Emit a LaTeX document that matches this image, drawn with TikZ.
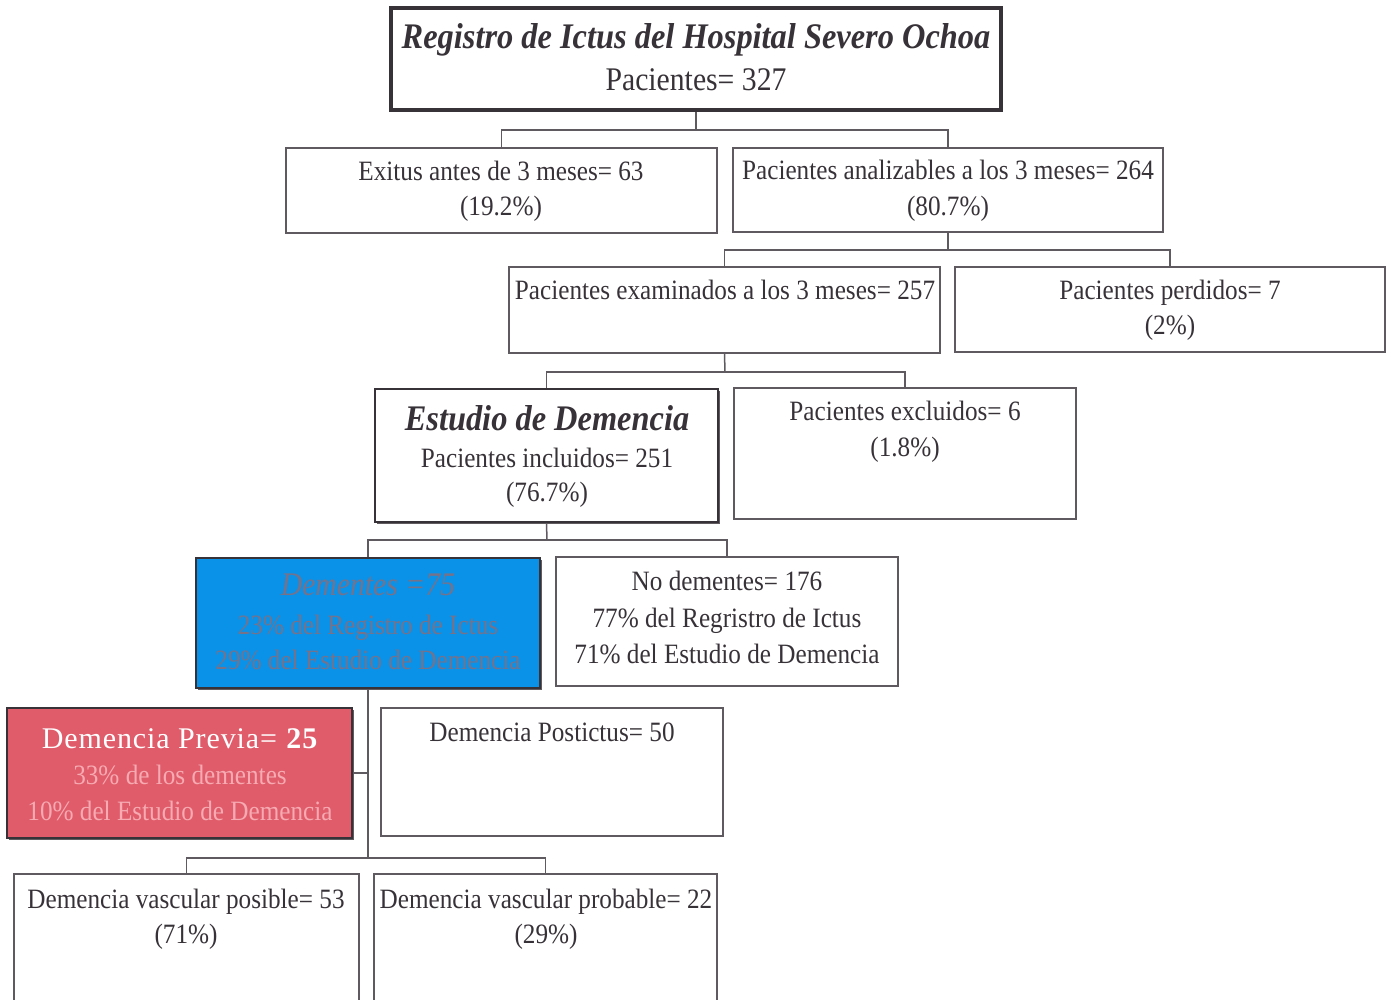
\documentclass[tikz,border=0pt]{standalone}
\usepackage{fontspec}
\setmainfont{Liberation Serif}[FakeStretch=0.9]
\newfontfamily\widefont{Liberation Serif}[LetterSpace=3.0]
\usetikzlibrary{shadows,fit}
\definecolor{ink}{RGB}{55,50,55}
\definecolor{edge}{RGB}{95,90,95}
\definecolor{demblue}{RGB}{10,146,232}
\definecolor{demred}{RGB}{224,92,106}
\definecolor{bluetxt}{RGB}{118,114,138}
\definecolor{pinktxt}{RGB}{246,170,178}
\begin{document}
\begin{tikzpicture}[x=0.5pt,y=-0.5pt,
  box/.style={draw=edge, line width=0.75pt, rectangle, inner sep=0pt},
  heavy/.style={draw=ink, fill=white, line width=1.4pt,
    drop shadow={shadow xshift=1.1pt, shadow yshift=-1.1pt, opacity=1, fill=ink!80}},
  txt/.style={anchor=base, inner sep=0pt, text=ink, font=\fontsize{14}{17}\selectfont},
  big/.style={anchor=base, inner sep=0pt, text=ink, font=\fontsize{18}{21}\selectfont\bfseries\itshape},
  conn/.style={draw=edge, line width=0.75pt}]
\useasboundingbox (0,0) rectangle (1393,1000);

% boxes
\node[box, heavy, line width=1.6pt, fit={(391,8) (1001,110)}] (top) {};
\node[box, fit={(286,148) (717,233)}] (exitus) {};
\node[box, fit={(733,148) (1163,232)}] (analiz) {};
\node[box, fit={(509,267) (940,353)}] (exam) {};
\node[box, fit={(955,267) (1385,352)}] (perd) {};
\node[box, heavy, fit={(375,389) (718,522)}] (estudio) {};
\node[box, fit={(734,388) (1076,519)}] (excl) {};
\node[box, heavy, fill=demblue, line width=1.1pt, fit={(196,558) (540,688)}] (dem) {};
\node[box, fit={(556,557) (898,686)}] (nodem) {};
\node[box, heavy, fill=demred, line width=1.1pt, fit={(7,708) (352,838)}] (prev) {};
\node[box, fit={(381,708) (723,836)}] (post) {};
\node[box, fit={(14,874) (359,1012)}] (posib) {};
\node[box, fit={(374,874) (717,1012)}] (probab) {};

% texts
\node[big] (t1) at (696,49) {Registro de Ictus del Hospital Severo Ochoa};
\node[txt, font=\fontsize{16.5}{19}\selectfont] (t2) at (696,91) {Pacientes= 327};
\node[txt] (e1) at (501,181) {Exitus antes de 3 meses= 63};
\node[txt] (e2) at (501,216) {(19.2\%)};
\node[txt] (a1) at (948,180) {Pacientes analizables a los 3 meses= 264};
\node[txt] (a2) at (948,216) {(80.7\%)};
\node[txt] (x1) at (725,300) {Pacientes examinados a los 3 meses= 257};
\node[txt] (p1) at (1170,300) {Pacientes perdidos= 7};
\node[txt] (p2) at (1170,335) {(2\%)};
\node[big] (s1) at (547,430) {Estudio de Demencia};
\node[txt] (s2) at (547,467) {Pacientes incluidos= 251};
\node[txt] (s3) at (547,502) {(76.7\%)};
\node[txt] (c1) at (905,421) {Pacientes excluidos= 6};
\node[txt] (c2) at (905,456) {(1.8\%)};
\node[txt, text=bluetxt, font=\fontsize{16.5}{19}\selectfont\itshape] (d1) at (368,595) {Dementes =75};
\node[txt, text=bluetxt] (d2) at (368,634) {23\% del Registro de Ictus};
\node[txt, text=bluetxt] (d3) at (368,669) {29\% del Estudio de Demencia};
\node[txt] (n1) at (727,590) {No dementes= 176};
\node[txt] (n2) at (727,627) {77\% del Regristro de Ictus};
\node[txt] (n3) at (727,663) {71\% del Estudio de Demencia};
\node[txt, text=white, font=\fontsize{15}{18}\widefont] (r1) at (180,748) {Demencia Previa= \textbf{25}};
\node[txt, text=pinktxt] (r2) at (180,784) {33\% de los dementes};
\node[txt, text=pinktxt] (r3) at (180,820) {10\% del Estudio de Demencia};
\node[txt] (q1) at (552,741) {Demencia Postictus= 50};
\node[txt] (v1) at (186,908) {Demencia vascular posible= 53};
\node[txt] (v2) at (186,943) {(71\%)};
\node[txt] (w1) at (546,908) {Demencia vascular probable= 22};
\node[txt] (w2) at (546,943) {(29\%)};

% junctions
\coordinate (j1) at (696,130);
\coordinate (j2) at (948,250);
\coordinate (j3) at (725,372);
\coordinate (j4) at (547,540);
\coordinate (j5) at (368,773);
\coordinate (j6) at (368,858);

% connectors
\draw[conn] (top.south) -- (j1);
\draw[conn] (exitus.north) |- (j1) -| (analiz.north);
\draw[conn] (analiz.south) -- (j2);
\draw[conn] (exam.north) |- (j2) -| (perd.north);
\draw[conn] (exam.south) -- (j3);
\draw[conn] (estudio.north) |- (j3) -| (excl.north);
\draw[conn] (estudio.south) -- (j4);
\draw[conn] (dem.north) |- (j4) -| (nodem.north);
\draw[conn] (dem.south) -- (j5) -- (j6);
\draw[conn] (prev.east) -- (j5);
\draw[conn] (posib.north) |- (j6) -| (probab.north);
\end{tikzpicture}
\end{document}
